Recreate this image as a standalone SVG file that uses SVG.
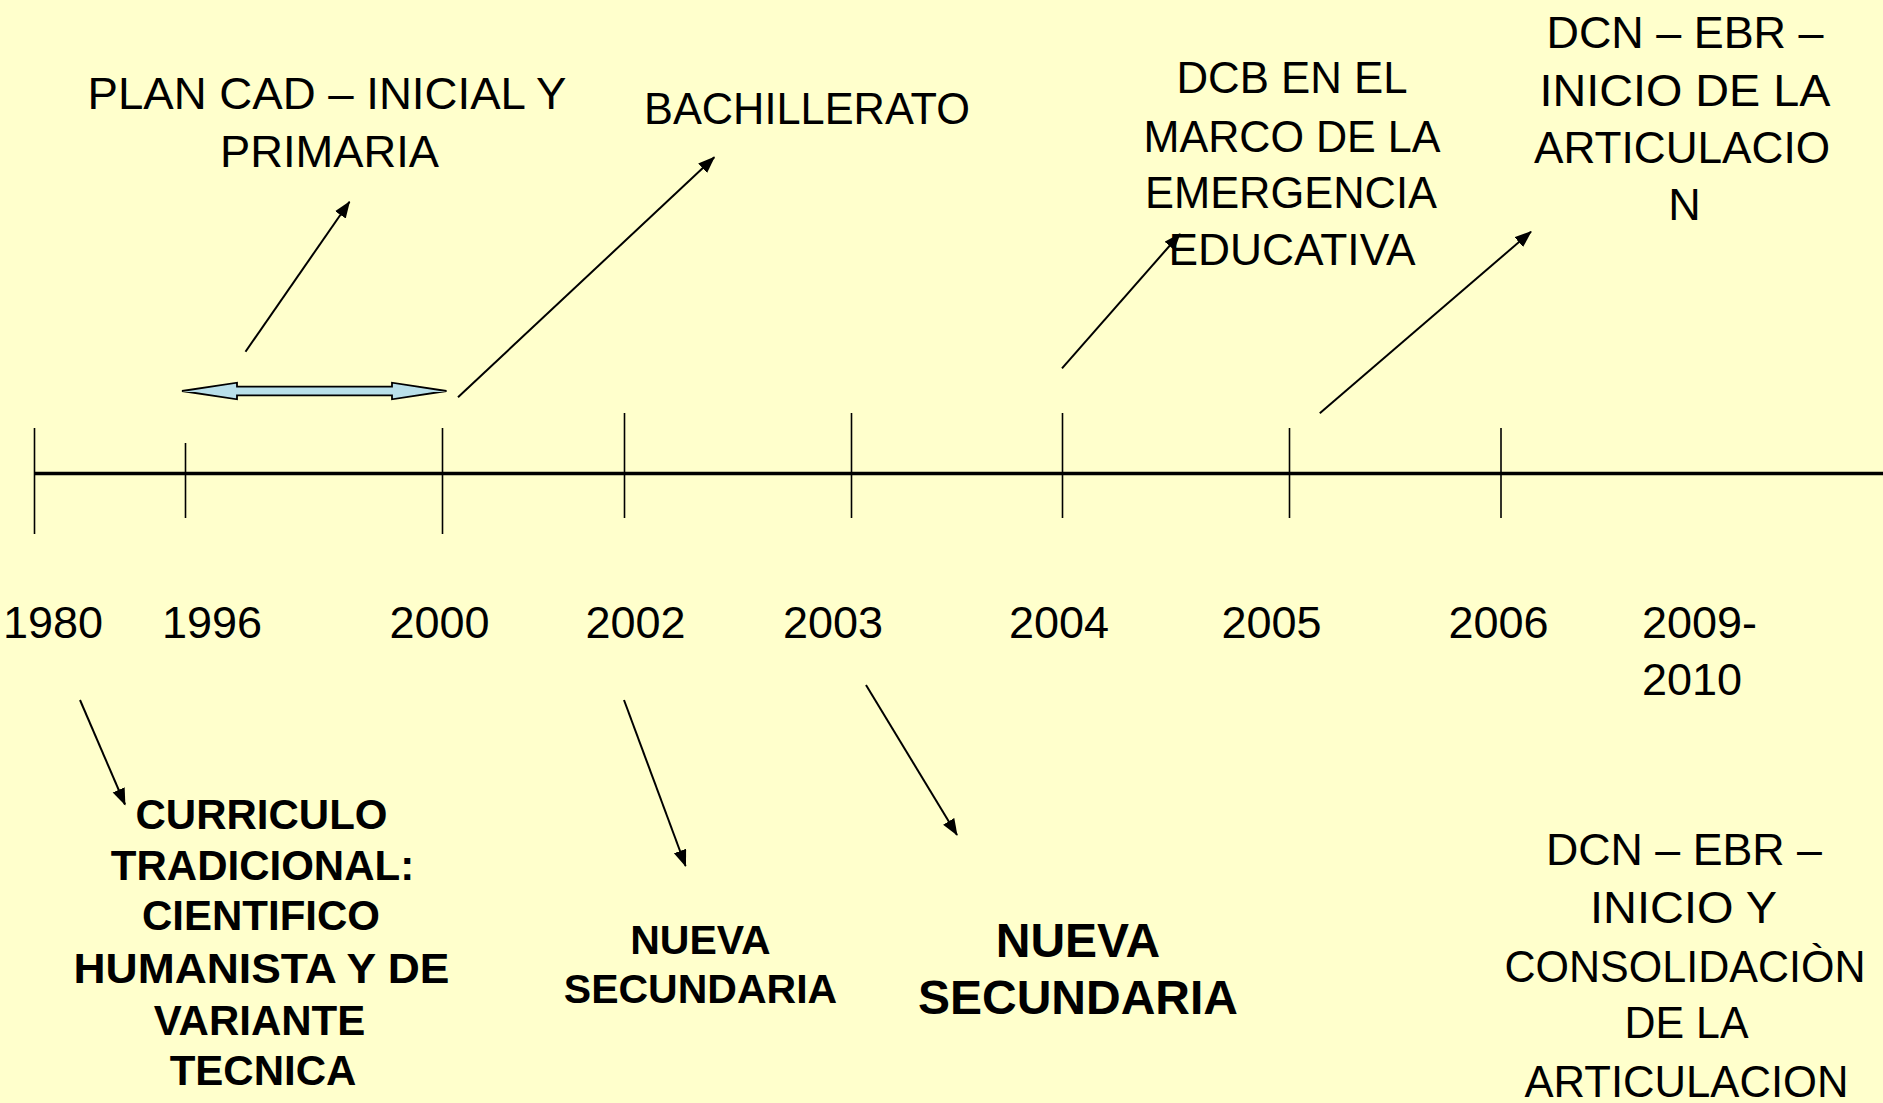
<svg xmlns="http://www.w3.org/2000/svg" width="1883" height="1103" viewBox="0 0 1883 1103">
<defs>
<style>
.t{font-family:"Liberation Sans",Arial,sans-serif;font-size:45px;fill:#000;text-anchor:middle}
.b{font-family:"Liberation Sans",Arial,sans-serif;font-weight:bold;fill:#000;text-anchor:middle}
.yr{font-family:"Liberation Sans",Arial,sans-serif;font-size:45px;fill:#000}
.tick{stroke:#000;stroke-width:1.6}
.axis{stroke:#000;stroke-width:3.5}
.con{stroke:#000;stroke-width:2;fill:none;marker-end:url(#ah)}
</style>
<marker id="ah" markerUnits="userSpaceOnUse" markerWidth="18" markerHeight="14" refX="16" refY="6.5" orient="auto">
<path d="M0,0 L17,6.5 L0,13 z" fill="#000"/>
</marker>
</defs>
<rect width="1883" height="1103" fill="#FFFFCC"/>

<g id="timeline">
<line class="axis" x1="34" y1="473.5" x2="1883" y2="473.5"/>
<line class="tick" x1="34.5" y1="428" x2="34.5" y2="534"/>
<line class="tick" x1="185.5" y1="443" x2="185.5" y2="518"/>
<line class="tick" x1="442.5" y1="428" x2="442.5" y2="534"/>
<line class="tick" x1="624.5" y1="413" x2="624.5" y2="518"/>
<line class="tick" x1="851.5" y1="413" x2="851.5" y2="518"/>
<line class="tick" x1="1062.5" y1="413" x2="1062.5" y2="518"/>
<line class="tick" x1="1289.5" y1="428" x2="1289.5" y2="518"/>
<line class="tick" x1="1501" y1="428" x2="1501" y2="518"/>
</g>

<g id="years">
<text class="yr" x="53" y="638" text-anchor="middle">1980</text>
<text class="yr" x="212" y="638" text-anchor="middle">1996</text>
<text class="yr" x="439.5" y="638" text-anchor="middle">2000</text>
<text class="yr" x="635.5" y="638" text-anchor="middle">2002</text>
<text class="yr" x="833" y="638" text-anchor="middle">2003</text>
<text class="yr" x="1059" y="638" text-anchor="middle">2004</text>
<text class="yr" x="1271.5" y="638" text-anchor="middle">2005</text>
<text class="yr" x="1498.5" y="638" text-anchor="middle">2006</text>
<text class="yr" x="1642" y="638">2009-</text>
<text class="yr" x="1642" y="695">2010</text>
</g>

<g id="range-1996-2000">
<path d="M182,391 L237,382.7 L237,386.7 L392,386.7 L392,382.7 L446.5,391 L392,399.3 L392,395.3 L237,395.3 L237,399.3 z" fill="#B9E0EA" stroke="#000" stroke-width="1.8" stroke-linejoin="miter"/>
</g>

<g id="node-plan-cad">
<text class="t" x="327" y="109" textLength="479" lengthAdjust="spacingAndGlyphs">PLAN CAD – INICIAL Y</text>
<text class="t" x="329.5" y="166.5" textLength="219" lengthAdjust="spacingAndGlyphs">PRIMARIA</text>
</g>

<g id="node-bachillerato">
<text class="t" x="807" y="123.5" textLength="326" lengthAdjust="spacingAndGlyphs">BACHILLERATO</text>
</g>

<g id="node-dcb">
<text class="t" x="1292" y="93.3" textLength="231" lengthAdjust="spacingAndGlyphs">DCB EN EL</text>
<text class="t" x="1292" y="151.7" textLength="297" lengthAdjust="spacingAndGlyphs">MARCO DE LA</text>
<text class="t" x="1291" y="208.3" textLength="292" lengthAdjust="spacingAndGlyphs">EMERGENCIA</text>
<text class="t" x="1292" y="265" textLength="247" lengthAdjust="spacingAndGlyphs">EDUCATIVA</text>
</g>

<g id="node-dcn-inicio">
<text class="t" x="1685" y="48.3" textLength="277" lengthAdjust="spacingAndGlyphs">DCN – EBR –</text>
<text class="t" x="1685" y="106" textLength="291" lengthAdjust="spacingAndGlyphs">INICIO DE LA</text>
<text class="t" x="1682" y="162.7" textLength="296" lengthAdjust="spacingAndGlyphs">ARTICULACIO</text>
<text class="t" x="1684.5" y="220">N</text>
</g>

<g id="node-curriculo">
<text class="b" font-size="42" x="261.5" y="829.3">CURRICULO</text>
<text class="b" font-size="42" x="262.5" y="880">TRADICIONAL:</text>
<text class="b" font-size="42" x="261" y="930">CIENTIFICO</text>
<text class="b" font-size="42" x="261.5" y="983.3" textLength="376" lengthAdjust="spacingAndGlyphs">HUMANISTA Y DE</text>
<text class="b" font-size="42" x="259.5" y="1035">VARIANTE</text>
<text class="b" font-size="42" x="263" y="1085">TECNICA</text>
</g>

<g id="node-nueva-secundaria-2002">
<text class="b" font-size="41" x="700.5" y="954">NUEVA</text>
<text class="b" font-size="41" x="700.5" y="1003">SECUNDARIA</text>
</g>

<g id="node-nueva-secundaria-2003">
<text class="b" font-size="48" x="1078" y="957">NUEVA</text>
<text class="b" font-size="48" x="1078" y="1014">SECUNDARIA</text>
</g>

<g id="node-dcn-consolidacion">
<text class="t" x="1684" y="865" textLength="276" lengthAdjust="spacingAndGlyphs">DCN – EBR –</text>
<text class="t" x="1683.5" y="923.3" textLength="187" lengthAdjust="spacingAndGlyphs">INICIO Y</text>
<text class="t" x="1685" y="981.7" textLength="361" lengthAdjust="spacingAndGlyphs">CONSOLIDACIÒN</text>
<text class="t" x="1686.5" y="1038.3" textLength="124" lengthAdjust="spacingAndGlyphs">DE LA</text>
<text class="t" x="1686.5" y="1096.7" textLength="324" lengthAdjust="spacingAndGlyphs">ARTICULACION</text>
</g>

<g id="connectors">
<line class="con" x1="245.5" y1="351.7" x2="349.5" y2="201.7"/>
<line class="con" x1="458" y1="397.3" x2="714.3" y2="157.3"/>
<line class="con" x1="1062" y1="368.3" x2="1180" y2="234"/>
<line class="con" x1="1319.8" y1="413.3" x2="1531" y2="231.7"/>
<line class="con" x1="80" y1="700" x2="125" y2="804.5"/>
<line class="con" x1="624" y1="700" x2="685.6" y2="866"/>
<line class="con" x1="866" y1="685" x2="957" y2="835"/>
</g>
</svg>
